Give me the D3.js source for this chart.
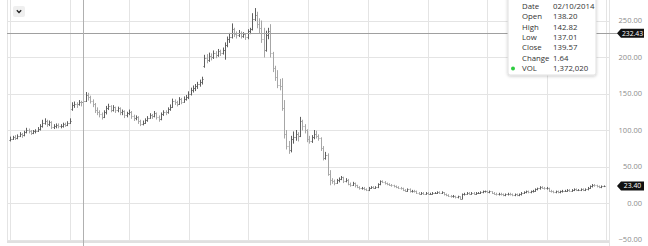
<!DOCTYPE html>
<html>
<head>
<meta charset="utf-8">
<script src="https://cdn.jsdelivr.net/npm/d3@7"></script>
<style>
  html, body { margin: 0; padding: 0; background: #fff; }
  svg { display: block; font-family: "Open Sans", "Noto Sans", sans-serif; }
</style>
</head>
<body>
<svg id="chart" width="648" height="246"></svg>
<script>
// weekly bars, first week starting 2013-07-01
const firstWeek = "2013-07-01";

const opens = [
  86, 88, 90, 89, 92, 94, 93, 97, 100, 98, 96, 98, 99,
  101, 105, 110, 112, 108, 111, 104, 106, 107, 105, 106, 108, 107,
  110, 129, 134, 136, 135, 138, 138.2, 140, 148, 145, 140, 135, 128, 125, 122,
  118, 124, 130, 133, 128, 131, 127, 130, 124, 126, 120, 123, 125, 119, 116, 118, 112, 108,
  110, 114, 117, 120, 119, 123, 118, 115, 122, 125, 124, 129, 132, 140, 138, 136, 142, 139, 143,
  145, 150, 155, 158, 160, 163, 166, 188, 199, 196, 202, 200, 205, 203, 208, 206, 210, 216, 224, 228,
  238, 232, 230, 233, 229, 231, 227, 236, 238, 252, 258, 245, 240, 225, 210, 230, 236, 205, 185, 172, 162, 160,
  130, 95, 78, 72, 88, 90, 95, 92, 112, 105, 100, 88, 85, 90, 95, 92, 89, 75, 62, 66, 40,
  32, 30, 28, 31, 33, 35, 30, 32, 26, 25, 27, 24, 22, 20, 21, 19, 18, 21, 22, 21,
  22, 26, 30, 29, 27, 26, 25, 24, 23, 22, 21, 20, 18, 17, 19, 16, 17,
  16, 14, 13, 14, 13, 14, 13, 13, 14, 14, 15, 14, 15, 12, 11, 10, 9, 10, 8, 9,
  6, 12, 13, 14, 13, 14, 13, 14, 14, 15, 16, 16, 15, 16, 14, 13, 12, 13, 12, 11, 12, 13, 12, 11, 12, 11,
  12, 14, 15, 16, 15, 16, 17, 19, 20, 22, 21, 20, 21, 17, 16, 15, 16, 15, 16,
  17, 17, 18, 17, 18, 19, 18, 18, 19, 18, 19, 21, 23, 25, 24, 23, 22, 23
];
const highs = [
  91, 92, 93, 94, 97, 96, 99, 103, 102, 100, 100, 101, 104,
  108, 114, 116, 114, 113, 112, 108, 109, 109, 108, 110, 110, 112,
  116, 138, 139, 138, 141, 140, 142.82, 152, 151, 147, 142, 137, 131, 127, 124,
  127, 133, 136, 134, 134, 132, 132, 131, 128, 127, 125, 128, 126, 121, 120, 119, 114, 113,
  116, 119, 123, 122, 126, 124, 120, 124, 127, 127, 131, 135, 143, 142, 140, 145, 144, 146, 148,
  153, 158, 161, 163, 166, 169, 173, 203, 204, 206, 205, 209, 208, 211, 210, 213, 220, 228, 233, 246,
  240, 235, 237, 235, 234, 232, 238, 240, 260, 267, 262, 253, 250, 240, 236, 240, 245, 207, 188, 182, 170, 171,
  141, 100, 85, 92, 98, 100, 97, 118, 114, 108, 101, 92, 93, 100, 99, 94, 90, 78, 70, 68, 45,
  34, 32, 33, 35, 37, 36, 34, 33, 28, 29, 28, 25, 23, 22, 22, 20, 22, 23, 23, 23,
  27, 31, 31, 30, 28, 27, 26, 25, 24, 23, 22, 21, 19, 20, 20, 18, 18,
  17, 15, 15, 15, 15, 15, 14, 15, 15, 16, 16, 16, 15, 13, 12, 11, 11, 10, 10, 9,
  13, 14, 15, 15, 15, 15, 15, 15, 16, 17, 17, 17, 17, 16, 15, 14, 14, 14, 13, 13, 14, 14, 13, 13, 13, 13,
  15, 16, 17, 17, 17, 18, 20, 21, 23, 23, 22, 22, 21, 18, 17, 17, 17, 17, 18,
  18, 19, 19, 19, 20, 20, 19, 20, 20, 20, 22, 24, 26, 26, 25, 24, 24, 24
];
const lows = [
  85, 87, 87, 88, 91, 90, 92, 96, 96, 94, 95, 96, 98,
  100, 104, 108, 105, 106, 102, 102, 103, 103, 103, 104, 105, 106,
  109, 127, 131, 131, 134, 133, 137.01, 139, 141, 137, 132, 124, 121, 118, 115,
  117, 122, 128, 125, 126, 124, 125, 121, 121, 117, 118, 121, 116, 113, 114, 109, 106, 107,
  109, 112, 116, 116, 118, 115, 112, 114, 120, 121, 123, 127, 131, 135, 133, 135, 136, 138, 141,
  143, 148, 152, 154, 157, 160, 163, 186, 192, 194, 196, 198, 199, 201, 202, 204, 197, 214, 220, 226,
  228, 226, 228, 226, 227, 224, 225, 232, 237, 250, 240, 233, 220, 200, 208, 225, 200, 180, 168, 158, 155, 127,
  89, 74, 68, 70, 82, 86, 85, 91, 100, 96, 84, 82, 83, 88, 89, 86, 72, 59, 60, 38, 25,
  27, 25, 27, 29, 32, 28, 29, 25, 23, 24, 22, 21, 19, 19, 18, 17, 17, 20, 20, 20,
  21, 25, 28, 26, 25, 24, 23, 22, 21, 20, 19, 17, 16, 16, 15, 15, 15,
  13, 12, 12, 12, 12, 12, 12, 12, 13, 13, 13, 13, 11, 10, 9, 8, 8, 7, 7, 5,
  6, 11, 12, 12, 12, 12, 12, 13, 13, 14, 15, 14, 14, 13, 12, 11, 11, 11, 10, 10, 11, 11, 10, 10, 10, 10,
  11, 13, 14, 14, 14, 15, 16, 18, 19, 20, 19, 19, 16, 15, 14, 14, 14, 14, 15,
  16, 16, 16, 16, 17, 17, 17, 17, 17, 17, 18, 20, 22, 23, 22, 21, 21, 22.5
];
const closes = [
  88, 90, 89, 92, 94, 93, 97, 100, 98, 96, 98, 99, 101,
  105, 110, 112, 108, 111, 104, 106, 107, 105, 106, 108, 107, 110,
  113, 134, 136, 135, 138, 137.93, 139.57, 148, 145, 140, 135, 128, 125, 122, 118,
  124, 130, 133, 128, 131, 127, 130, 124, 126, 120, 123, 125, 119, 116, 118, 112, 108, 110,
  114, 117, 120, 119, 123, 118, 115, 122, 125, 124, 129, 132, 140, 138, 136, 142, 139, 143, 145,
  150, 155, 158, 160, 163, 166, 170, 199, 196, 202, 200, 205, 203, 208, 206, 210, 216, 224, 228, 238,
  232, 230, 233, 229, 231, 227, 236, 238, 252, 258, 245, 240, 225, 210, 230, 236, 205, 185, 172, 162, 160, 130,
  95, 78, 72, 88, 90, 95, 92, 112, 105, 100, 88, 85, 90, 95, 92, 89, 75, 62, 66, 40, 32,
  30, 28, 31, 33, 35, 30, 32, 26, 25, 27, 24, 22, 20, 21, 19, 18, 21, 22, 21, 22,
  26, 30, 29, 27, 26, 25, 24, 23, 22, 21, 20, 18, 17, 19, 16, 17, 16,
  14, 13, 14, 13, 14, 13, 13, 14, 14, 15, 14, 15, 12, 11, 10, 9, 10, 8, 9, 6,
  12, 13, 14, 13, 14, 13, 14, 14, 15, 16, 16, 15, 16, 14, 13, 12, 13, 12, 11, 12, 13, 12, 11, 12, 11, 12,
  14, 15, 16, 15, 16, 17, 19, 20, 22, 21, 20, 21, 17, 16, 15, 16, 15, 16, 17,
  17, 18, 17, 18, 19, 18, 18, 19, 18, 19, 21, 23, 25, 24, 23, 22, 23, 23.4
];

const yTicks = [-50, 0, 50, 100, 150, 200, 250];
const gridDates = ["2013-07-01", "2014-01-01", "2014-07-01", "2015-01-01", "2015-07-01", "2016-01-01",
  "2016-07-01", "2017-01-01", "2017-07-01", "2018-01-01", "2018-07-01"];

const crossDate = "2014-02-10";
const crossPrice = 232.43;
const lastPrice = 23.40;
const tipLabels = ["Date", "Open", "High", "Low", "Close", "Change", "VOL"];
const tipValues = ["02/10/2014", "138.20", "142.82", "137.01", "139.57", "1.64", "1,372,020"];

// ======== scales
const parse = d3.utcParse("%Y-%m-%d");
const svg = d3.select("#chart");
const plot = { left: 7, right: 609, top: 0, bottom: 242 };

const start = parse(firstWeek);
const bars = closes.map((c, i) => ({
  date: d3.utcWeek.offset(start, i),
  o: opens[i], h: highs[i], l: lows[i], c: c
}));

const x = d3.scaleUtc()
  .domain([parse("2013-07-01"), parse("2018-07-01")])
  .range([10.4, 605.5]);
const y = d3.scaleLinear()
  .domain([-50, 250])
  .range([239.5, 20.5]);

const crisp = v => Math.round(v) + 0.5;

// ======== grid
const grid = svg.append("g").attr("fill", "none");
grid.selectAll("line.h")
  .data(yTicks)
  .join("line")
  .attr("x1", plot.left).attr("x2", plot.right)
  .attr("y1", d => crisp(y(d))).attr("y2", d => crisp(y(d)))
  .attr("stroke", "#e4e4e4");

grid.selectAll("line.v")
  .data(gridDates.map(parse))
  .join("line")
  .attr("x1", d => crisp(x(d))).attr("x2", d => crisp(x(d)))
  .attr("y1", plot.top).attr("y2", plot.bottom)
  .attr("stroke", "#e4e4e4");

// plot frame (left, right, bottom)
grid.append("line")
  .attr("x1", plot.left + 0.5).attr("x2", plot.left + 0.5)
  .attr("y1", 0).attr("y2", plot.bottom)
  .attr("stroke", "#e4e4e4");
grid.append("line")
  .attr("x1", plot.right + 0.5).attr("x2", plot.right + 0.5)
  .attr("y1", 0).attr("y2", 246)
  .attr("stroke", "#e4e4e4");
grid.append("line")
  .attr("x1", plot.left).attr("x2", plot.right)
  .attr("y1", plot.bottom).attr("y2", plot.bottom)
  .attr("stroke", "#e0e0e0").attr("stroke-width", 2);

// ======== y axis labels (right)
svg.append("g")
  .selectAll("text")
  .data(yTicks)
  .join("text")
  .attr("x", 642)
  .attr("y", d => y(d))
  .attr("dy", "0.35em")
  .attr("text-anchor", "end")
  .attr("font-size", 7.5)
  .attr("fill", "#8c8c8c")
  .text(d => d3.format(".2f")(d));

// ======== OHLC bars
const barG = svg.append("g").attr("stroke-width", 1);
const bar = barG.selectAll("g")
  .data(bars)
  .join("g")
  .attr("stroke", d => d.c >= d.o ? "#5e5e5e" : "#a6a6a6");

bar.append("line")
  .attr("x1", d => crisp(x(d.date))).attr("x2", d => crisp(x(d.date)))
  .attr("y1", d => y(d.h)).attr("y2", d => y(d.l) + 0.5);
bar.append("line")
  .attr("x1", d => crisp(x(d.date)) - 1).attr("x2", d => crisp(x(d.date)))
  .attr("y1", d => crisp(y(d.o))).attr("y2", d => crisp(y(d.o)));
bar.append("line")
  .attr("x1", d => crisp(x(d.date))).attr("x2", d => crisp(x(d.date)) + 1)
  .attr("y1", d => crisp(y(d.c))).attr("y2", d => crisp(y(d.c)));

// ======== crosshair
const cx = crisp(x(parse(crossDate)));
const cy = crisp(y(crossPrice));
svg.append("line")
  .attr("x1", plot.left).attr("x2", 618)
  .attr("y1", cy).attr("y2", cy)
  .attr("stroke", "#a0a0a0");
svg.append("line")
  .attr("x1", cx).attr("x2", cx)
  .attr("y1", 0).attr("y2", 246)
  .attr("stroke", "#b0b0b0");

// ======== price tags
function priceTag(v) {
  const py = y(v);
  const g = svg.append("g");
  g.append("path")
    .attr("d", `M617,${py} L621,${py - 4.5} L644,${py - 4.5} L644,${py + 4.5} L621,${py + 4.5} Z`)
    .attr("fill", "#111");
  g.append("text")
    .attr("x", 632.5).attr("y", py).attr("dy", "0.35em")
    .attr("text-anchor", "middle")
    .attr("font-size", 6.8)
    .attr("fill", "#fff")
    .text(d3.format(".2f")(v));
}
priceTag(crossPrice);
priceTag(lastPrice);

// ======== tooltip
const defs = svg.append("defs");
const f = defs.append("filter").attr("id", "shadow").attr("x", "-20%").attr("y", "-20%")
  .attr("width", "140%").attr("height", "140%");
f.append("feDropShadow").attr("dx", 0).attr("dy", 1).attr("stdDeviation", 1.5)
  .attr("flood-color", "#000").attr("flood-opacity", 0.2);

const tip = svg.append("g");
tip.append("rect")
  .attr("x", 508).attr("y", -6).attr("width", 88).attr("height", 81)
  .attr("rx", 2)
  .attr("fill", "#fff").attr("stroke", "#e0e0e0")
  .attr("filter", "url(#shadow)");
tip.selectAll("text.lab")
  .data(tipLabels)
  .join("text")
  .attr("x", 522).attr("y", (d, i) => 6 + i * 10.4)
  .attr("dy", "0.35em")
  .attr("font-size", 7.8).attr("fill", "#333")
  .text(d => d);
tip.selectAll("text.val")
  .data(tipValues)
  .join("text")
  .attr("x", 553).attr("y", (d, i) => 6 + i * 10.4)
  .attr("dy", "0.35em")
  .attr("font-size", 7.8).attr("fill", "#333")
  .text(d => d);
tip.append("circle")
  .attr("cx", 513).attr("cy", 6 + 6 * 10.4).attr("r", 2)
  .attr("fill", "#2ecc40");

// ======== collapse button
const btn = svg.append("g");
btn.append("rect")
  .attr("x", 13).attr("y", 6).attr("width", 12).attr("height", 11).attr("rx", 2)
  .attr("fill", "#efefef");
btn.append("path")
  .attr("d", "M16.8,10.3 L19,12.5 L21.2,10.3")
  .attr("fill", "none").attr("stroke", "#222").attr("stroke-width", 1.3);
</script>
</body>
</html>
